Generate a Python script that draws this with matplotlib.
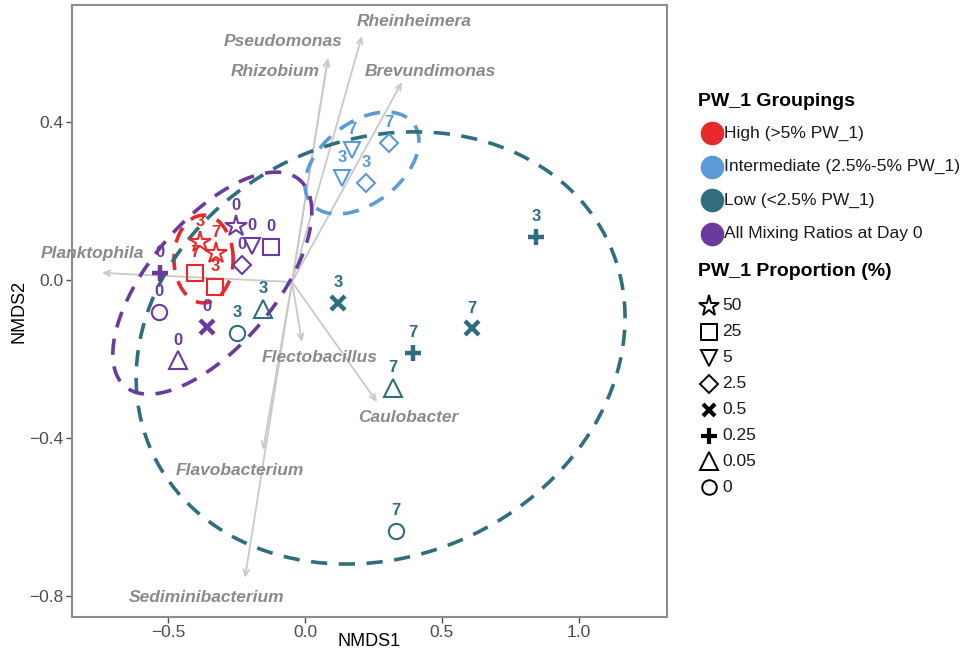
import numpy as np
import matplotlib
matplotlib.use("Agg")
import matplotlib.pyplot as plt

plt.rcParams['font.family'] = ['Liberation Sans', 'DejaVu Sans']

# ---------------- data ----------------
groups = ["High", "Intermediate", "Low", "Day0"]
group_labels = ["High (>5% PW_1)", "Intermediate (2.5%-5% PW_1)",
                "Low (<2.5% PW_1)", "All Mixing Ratios at Day 0"]
group_colors = ["#E8282B", "#5A9BD6", "#2E6E7E", "#6B3A9F"]

proportions = [50, 25, 5, 2.5, 0.5, 0.25, 0.05, 0]
proportion_labels = ["50", "25", "5", "2.5", "0.5", "0.25", "0.05", "0"]

pt_group = ["High"] * 4 + ["Intermediate"] * 4 + ["Low"] * 8 + ["Day0"] * 8
pt_prop = [50, 50, 25, 25,
           5, 2.5, 5, 2.5,
           0.05, 0, 0.5, 0.5, 0.25, 0.05, 0.25, 0,
           50, 5, 25, 2.5, 0.25, 0, 0.5, 0.05]
pt_day = [3, 7, 7, 3,
          7, 7, 3, 3,
          3, 3, 3, 7, 7, 7, 3, 7,
          0, 0, 0, 0, 0, 0, 0, 0]
nmds1 = [-0.383, -0.325, -0.401, -0.328,
         0.172, 0.307, 0.135, 0.223,
         -0.153, -0.248, 0.120, 0.609, 0.394, 0.321, 0.843, 0.332,
         -0.252, -0.193, -0.124, -0.230, -0.529, -0.533, -0.358, -0.464]
nmds2 = [0.096, 0.068, 0.018, -0.018,
         0.329, 0.347, 0.258, 0.246,
         -0.073, -0.134, -0.058, -0.122, -0.185, -0.273, 0.109, -0.635,
         0.137, 0.086, 0.084, 0.038, 0.018, -0.081, -0.119, -0.203]

# species vectors (start, tip) and label positions
species = ["Rhizobium", "Pseudomonas", "Rheinheimera", "Brevundimonas",
           "Planktophila", "Flectobacillus", "Caulobacter", "Flavobacterium",
           "Sediminibacterium"]
vec_x0 = [-0.047] * 9
vec_y0 = [-0.005] * 9
vec_x1 = [0.084, 0.084, 0.208, 0.354, -0.741, -0.011, 0.263, -0.153, -0.219]
vec_y1 = [0.562, 0.562, 0.618, 0.501, 0.018, -0.157, -0.309, -0.430, -0.754]
lab_x = [-0.109, -0.080, 0.398, 0.456, -0.777, 0.055, 0.376, -0.237, -0.358]
lab_y = [0.527, 0.603, 0.653, 0.527, 0.068, -0.195, -0.349, -0.481, -0.803]

# group ellipses: centre, half-ranges, x-y coupling
ell_cx = [-0.370, 0.208, 0.276, -0.338]
ell_cy = [0.053, 0.296, -0.172, -0.008]
ell_rx = [0.108, 0.208, 0.892, 0.363]
ell_ry = [0.111, 0.129, 0.547, 0.281]
ell_c = [0.0, 0.43, 0.14, 0.64]

# ---------------- styles ----------------
marker_map = {50: "*", 25: "s", 5: "v", 2.5: "D", 0.5: "x", 0.25: "+", 0.05: "^", 0: "o"}
msize_map = {50: 16, 25: 11.5, 5: 12, 2.5: 9.5, 0.5: 9.5, 0.25: 12, 0.05: 13, 0: 11}
color_of = dict(zip(groups, group_colors))

W, H = 969, 655
fig = plt.figure(figsize=(W / 100, H / 100), dpi=100)
ax = fig.add_axes([72 / W, 1 - 617 / H, (667 - 72) / W, (617 - 5) / H])
ax.set_xlim(-0.850, 1.321)
ax.set_ylim(-0.853, 0.696)

# vectors
for i, sp in enumerate(species):
    ax.annotate("", xy=(vec_x1[i], vec_y1[i]), xytext=(vec_x0[i], vec_y0[i]),
                arrowprops=dict(arrowstyle="->,head_length=0.45,head_width=0.2",
                                color="#C9C9C9", lw=1.3, shrinkA=0, shrinkB=0),
                zorder=1)
    ax.text(lab_x[i], lab_y[i], sp, color="#8A8A8A", fontsize=12.5,
            fontweight="bold", fontstyle="italic", ha="center", va="center",
            zorder=2)

# ellipses
t = np.linspace(0, 2 * np.pi, 300)
for k, g in enumerate(groups):
    phi = np.arccos(ell_c[k])
    ex = ell_cx[k] + ell_rx[k] * np.cos(t)
    ey = ell_cy[k] + ell_ry[k] * np.cos(t - phi)
    ax.plot(ex, ey, color=group_colors[k], lw=2.6, dashes=(4.5, 3.2),
            dash_capstyle="butt", zorder=3)

# points + labels
for i in range(len(nmds1)):
    p = pt_prop[i]
    c = color_of[pt_group[i]]
    m = marker_map[p]
    thick = m in ("x", "+")
    ax.plot(nmds1[i], nmds2[i], linestyle="none", marker=m,
            markersize=msize_map[p], markerfacecolor="none",
            markeredgecolor=c, markeredgewidth=3.2 if thick else 1.5, zorder=5)
    ax.annotate(str(pt_day[i]), (nmds1[i], nmds2[i]), xytext=(0, 14.5),
                textcoords="offset points", ha="center", va="center",
                color=c, fontsize=12, fontweight="bold", zorder=6)

ax.set_xticks([-0.5, 0.0, 0.5, 1.0])
ax.set_yticks([-0.8, -0.4, 0.0, 0.4])
ax.tick_params(labelsize=12.5, colors="#4D4D4D", length=4, width=1, pad=2)
for s in ax.spines.values():
    s.set_color("#8C8C8C")
    s.set_linewidth(1.5)
ax.set_xlabel("NMDS1", fontsize=13, color="black", va="center")
ax.xaxis.set_label_coords(0.5, -(641 - 617) / 612)
ax.set_ylabel("NMDS2", fontsize=13, color="black", va="center")
ax.yaxis.set_label_coords(-(72 - 19) / 595, 0.5)

# ---------------- legends (figure pixel space) ----------------
lax = fig.add_axes([0, 0, 1, 1])
lax.set_xlim(0, W)
lax.set_ylim(H, 0)
lax.axis("off")

lax.text(698, 102, "PW_1 Groupings", fontsize=14, fontweight="bold",
         ha="left", va="center")
for k, lbl in enumerate(group_labels):
    y = 133 + k * 33.5
    lax.plot(712, y, marker="o", markersize=16, color=group_colors[k],
             linestyle="none")
    lax.text(724, y, lbl, fontsize=12.5, ha="left", va="center", color="#1A1A1A")

lax.text(698, 272, "PW_1 Proportion (%)", fontsize=14, fontweight="bold",
         ha="left", va="center")
for k, p in enumerate(proportions):
    y = 306 + k * 25.9
    m = marker_map[p]
    thick = m in ("x", "+")
    lax.plot(709, y, marker=m, markersize=msize_map[p] * 0.95,
             markerfacecolor="none", markeredgecolor="black",
             markeredgewidth=3.0 if thick else 1.4, linestyle="none")
    lax.text(722, y, proportion_labels[k], fontsize=12.5, ha="left",
             va="center", color="#1A1A1A")

fig.savefig("out.png", dpi=100)
